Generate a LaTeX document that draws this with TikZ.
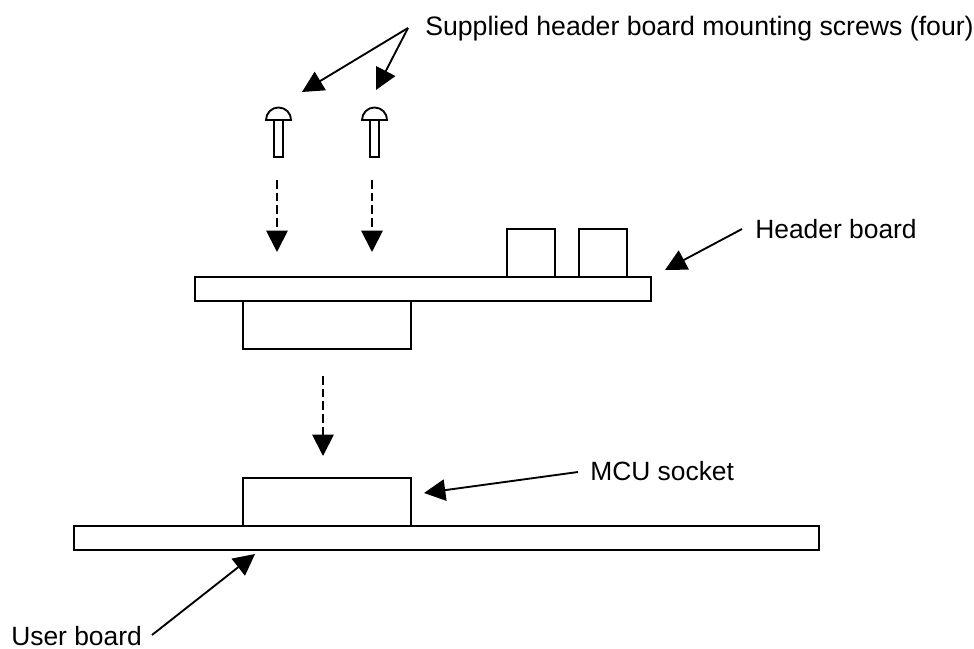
\documentclass[tikz,border=0pt]{standalone}
\usepackage{fontspec}
\setmainfont{Liberation Sans}
\usetikzlibrary{arrows.meta, positioning}
\tikzset{
  dw/part/.style={rectangle, draw=black, fill=white, line width=1.4pt,
    inner sep=0pt, outer sep=0pt, minimum height=36pt},
  dw/board/.style={dw/part, minimum height=18pt},
  dw/lbl/.style={font=\fontsize{19.8}{23}\selectfont, inner sep=0pt, anchor=west},
  dw/arr/.style={-{Triangle[length=16pt,width=16pt]}, line width=1.4pt, draw=black},
  dw/dash/.style={dw/arr, dash pattern=on 6.5pt off 3pt},
  dw/shank/.style={rectangle, draw=black, line width=1.4pt, inner sep=0pt, outer sep=0pt,
    minimum width=7pt, minimum height=28pt},
  dw/head/.style={draw=black, line width=1.4pt}
}
\begin{document}
\begin{tikzpicture}[x=0.75pt, y=-0.75pt]
  \useasboundingbox (0,0) rectangle (974,649);
  % boards
  \node[dw/board, minimum width=558.75pt] (user) at (446.5,538) {};
  \node[dw/part, minimum width=126pt, above right=0pt and 126.75pt of user.north west] (socket) {};
  \node[dw/board, minimum width=342pt] (header) at (423,289) {};
  \node[dw/part, minimum width=126pt, below right=0pt and 36pt of header.south west] (plug) {};
  \node[dw/part, minimum width=36pt, above right=0pt and 234pt of header.north west] (capa) {};
  \node[dw/part, minimum width=36pt, right=18pt of capa] (capb) {};
  % screws
  \node[dw/shank] (shanka) at (278.5,138.5) {};
  \node[dw/shank] (shankb) at (374.5,138.5) {};
  \draw[dw/head] (266,120) arc[start angle=180, end angle=0, radius=9.4pt] -- cycle;
  \draw[dw/head] (362,120) arc[start angle=180, end angle=0, radius=9.4pt] -- cycle;
  % labels
  \node[dw/lbl, font=\fontsize{20}{23}\selectfont] (lscrews) at (425,28.5) {Supplied header board mounting screws (four)};
  \node[dw/lbl] (lheader) at (755,229) {Header board};
  \node[dw/lbl] (lsocket) at (590,471) {MCU socket};
  \node[dw/lbl] (luser) at (11,636.5) {User board};
  % arrow ends
  \coordinate (fromscrews) at (408,28);
  \coordinate (toscrewa) at (302,92);
  \coordinate (toscrewb) at (376,90);
  \coordinate (fromheader) at (742,229);
  \coordinate (toheader) at (665,270);
  \coordinate (fromsocket) at (578,472);
  \coordinate (tosocket) at (424,493);
  \coordinate (fromuser) at (152,635);
  \coordinate (touser) at (255,554);
  \coordinate (dropa) at (277,180);
  \coordinate (dropatip) at (277,252);
  \coordinate (dropb) at (372,180);
  \coordinate (dropbtip) at (372,252);
  \coordinate (dropc) at (323,376);
  \coordinate (dropctip) at (323,456);

  \draw[dw/arr] (fromscrews) -- (toscrewa);
  \draw[dw/arr] (fromscrews) -- (toscrewb);
  \draw[dw/arr] (fromheader) -- (toheader);
  \draw[dw/arr] (fromsocket) -- (tosocket);
  \draw[dw/arr] (fromuser) -- (touser);
  \draw[dw/dash] (dropa) -- (dropatip);
  \draw[dw/dash] (dropb) -- (dropbtip);
  \draw[dw/dash] (dropc) -- (dropctip);
\end{tikzpicture}
\end{document}
